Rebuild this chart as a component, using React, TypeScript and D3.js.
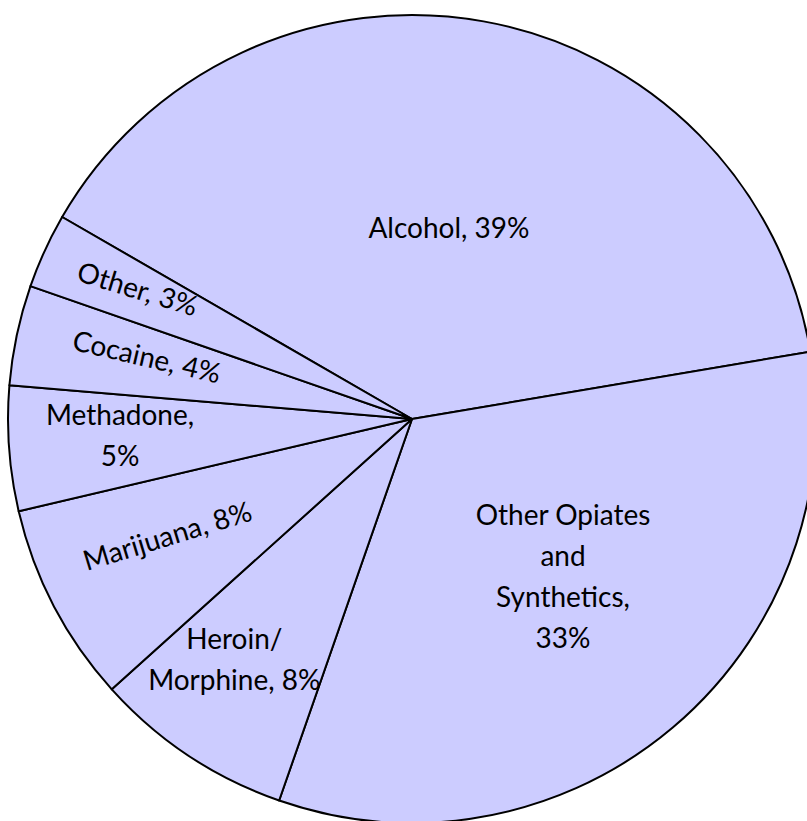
import React from "react";
import * as d3 from "d3";

const categories = ["Alcohol", "Other Opiates and Synthetics", "Heroin/ Morphine", "Marijuana", "Methadone", "Cocaine", "Other"];
const values = [39, 33, 8, 8, 5, 4, 3];
const labelLines = [
  ["Alcohol, 39%"],
  ["Other Opiates", "and", "Synthetics,", "33%"],
  ["Heroin/", "Morphine, 8%"],
  ["Marijuana, 8%"],
  ["Methadone,", "5%"],
  ["Cocaine, 4%"],
  ["Other, 3%"],
];

// label layout: angle (deg clockwise from top), radius fraction, rotation
const labelAngle = [11, 136.3, 216.3, 244.3, 266.5, 283, 295.2];
const labelRadius = [0.48, 0.541, 0.743, 0.673, 0.724, 0.673, 0.75];
const labelRotate = [0, 0, 0, -17, 0, 13, 17];

const W = 807, H = 821;
const cx = 412, cy = 419, R = 404;
const startDeg = -60;

export default function App() {
  const pie = d3.pie<number>().sort(null).value((d) => d)
    .startAngle((startDeg * Math.PI) / 180)
    .endAngle(((startDeg + 360) * Math.PI) / 180);
  const arcs = pie(values);
  const arc = d3.arc<d3.PieArcDatum<number>>().innerRadius(0).outerRadius(R);
  const fontSize = 28;
  const lineH = 41;
  return (
    <svg width={W} height={H} style={{ position: "absolute", left: 0, top: 0, display: "block" }}>
      <rect width={W} height={H} fill="#ffffff" />
      <g transform={`translate(${cx},${cy})`}>
        {arcs.map((a, i) => (
          <path key={categories[i]} d={arc(a) || ""} fill="#ccccff" stroke="#000" strokeWidth={2} strokeLinejoin="round" />
        ))}
        {arcs.map((a, i) => {
          const r = labelRadius[i] * R;
          const ang = (labelAngle[i] * Math.PI) / 180;
          const x = r * Math.sin(ang);
          const y = -r * Math.cos(ang) - 2;
          const lines = labelLines[i];
          const n = lines.length;
          return (
            <g key={"l" + i} transform={`translate(${x},${y}) rotate(${labelRotate[i]})`}>
              {lines.map((t, j) => (
                <text key={j} x={0} y={(j - (n - 1) / 2) * lineH} textAnchor="middle" dominantBaseline="central"
                  fontFamily="Lato, 'Open Sans', sans-serif" fontSize={fontSize} fill="#000">
                  {t}
                </text>
              ))}
            </g>
          );
        })}
      </g>
    </svg>
  );
}
